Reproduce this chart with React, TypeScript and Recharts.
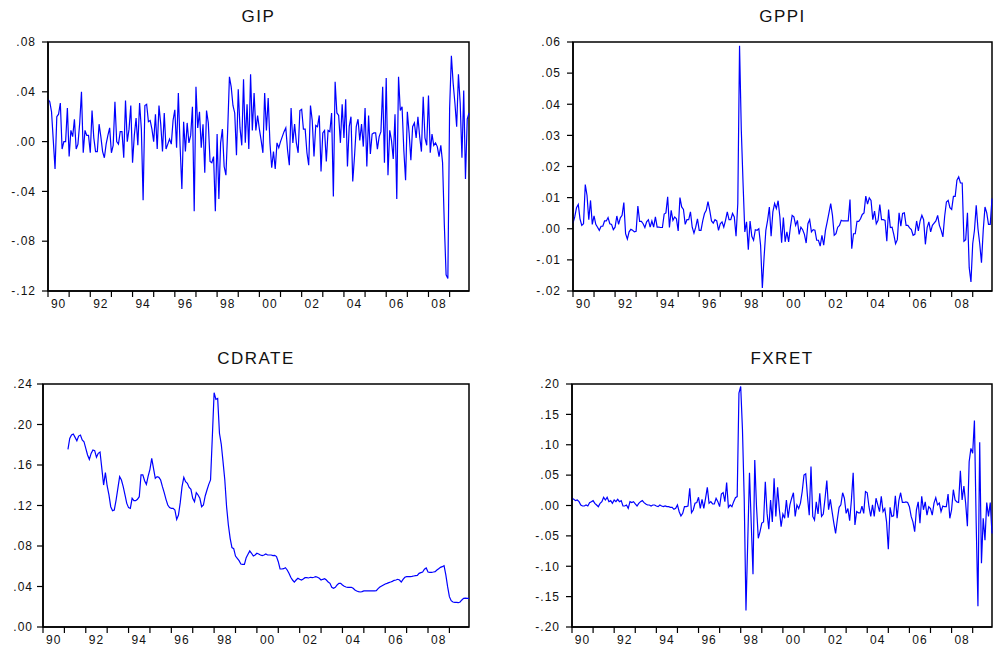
import React from 'react';
import { LineChart, Line, XAxis, YAxis, ReferenceArea } from 'recharts';

// monthly observations 1990:01 - 2009:12 (index 0..239)
const yearLabels = ['90', '91', '92', '93', '94', '95', '96', '97', '98', '99',
  '00', '01', '02', '03', '04', '05', '06', '07', '08', '09'];
const yearStarts = yearLabels.map((_, i) => i * 12);

const gip = [
  0.034, 0.032, 0.024, 0.001, -0.022, 0.020, 0.022, 0.031, -0.006, 0.000,
  0.000, 0.027, -0.012, 0.009, 0.004, 0.018, -0.006, -0.002, 0.015, 0.040,
  -0.009, 0.009, 0.005, 0.005, -0.009, 0.025, 0.003, -0.008, -0.008, 0.014,
  0.004, -0.008, -0.013, -0.002, 0.005, 0.011, -0.009, -0.003, 0.032, 0.000,
  -0.002, 0.008, 0.008, -0.013, 0.033, 0.000, 0.010, 0.029, -0.017, 0.005,
  0.019, -0.003, 0.031, 0.010, -0.047, 0.029, 0.030, 0.016, 0.017, 0.010,
  0.000, 0.022, -0.006, 0.029, 0.014, -0.008, 0.023, -0.006, -0.002, 0.002,
  -0.002, 0.017,
  0.0255, -0.005, 0.039, -0.004, -0.038, 0.016, -0.008, 0.015, -0.001, 0.005,
  0.028, -0.056, 0.044, 0.011, 0.024, -0.005, 0.014, -0.025, 0.025, 0.015,
  -0.016, -0.017, -0.012, -0.056, 0.006, -0.046, -0.001, 0.010, -0.020, -0.027,
  0.009, 0.052, 0.044, 0.029, 0.023, -0.011, 0.042, 0.011, -0.003, 0.050,
  -0.001, 0.030, -0.006, 0.054, 0.009, 0.039, 0.009, 0.021, 0.010, 0.001,
  -0.009, 0.039, 0.009, 0.035, -0.001, -0.021, -0.008, -0.022, -0.001, -0.005,
  0.000, 0.004, 0.008, 0.011, -0.007, -0.019, 0.027, -0.001, 0.014, -0.001,
  -0.009, 0.025, 0.026, 0.010, 0.010, -0.009, -0.019, 0.029, 0.017, -0.012,
  0.013, 0.012, 0.021, -0.024, 0.007, 0.009, -0.016, 0.009,
  0.008, 0.023, -0.044, 0.048, 0.023, 0.021, -0.001, 0.030, 0.003, 0.034,
  -0.020, 0.012, 0.020, -0.032, -0.012, 0.012, 0.018, 0.001, 0.014, -0.004,
  0.027, -0.020, 0.021, -0.010, 0.006, 0.007, 0.007, -0.006, 0.004, 0.008,
  0.044, -0.017, 0.051, -0.027, 0.009, 0.001, -0.014, 0.022, -0.046, 0.052,
  0.025, 0.028, -0.007, -0.031, 0.024, 0.007, -0.015, 0.012, 0.015, 0.003,
  0.020, 0.004, -0.008, 0.036, 0.003, -0.003, 0.037, -0.009, 0.006, -0.003,
  -0.001, -0.004, -0.012, -0.003, -0.017, -0.067, -0.107, -0.110, 0.027, 0.069,
  0.047, 0.031, 0.012, 0.054, 0.031, -0.013, 0.041, -0.030, 0.018, 0.023,
];

const gppi = [
  0.0018, 0.0038, 0.0068, 0.0078, 0.0032, 0.0011, 0.0016, 0.0142, 0.0107, 0.0029,
  0.0091, 0.0014, 0.0041, 0.0014, 0.0005, -0.0005, 0.0008, 0.0008, 0.0025, 0.0025,
  0.0036, 0.0016, 0.0014, -0.0003, 0.0005, 0.0041, 0.0014, 0.0035, 0.0043, 0.0084,
  -0.0016, -0.0033, -0.0010, -0.0002, -0.0005, -0.0010, -0.0008, 0.0073, 0.0024, 0.0024,
  0.0016, 0.0004, 0.0022, 0.0029, 0.0005, 0.0025, 0.0005, 0.0038, 0.0005, 0.0005,
  0.0004, 0.0004, 0.0047, 0.0051, 0.0103, 0.0004, 0.0059, 0.0027, 0.0038, 0.0032,
  -0.0007, 0.0100, 0.0070, 0.0062, 0.0014, 0.0029, 0.0029, 0.0054, 0.0005, -0.0014,
  0.0005, 0.0032, -0.0005, -0.0005, 0.0025, 0.0049, 0.0059, 0.0087, 0.0059, 0.0025,
  0.0018,
  0.0029, 0.0025, -0.0005, 0.0016, 0.0022, 0.0005, 0.0027, 0.0054, 0.0029, 0.0029,
  0.0049, 0.0038, -0.0024, 0.0081, 0.0588, 0.0317, 0.0146, -0.0010, 0.0022, -0.0067,
  0.0025, -0.0024, -0.0037, -0.0003, -0.0005, 0.0000, -0.0053, -0.0190, -0.0091, -0.0005,
  0.0027, 0.0070, -0.0024, 0.0054, 0.0081, 0.0065, 0.0090, 0.0038, -0.0045, 0.0036,
  -0.0042, -0.0010, -0.0042, 0.0005, 0.0043, 0.0038, 0.0011, 0.0027, -0.0018, 0.0005,
  -0.0003, -0.0018, -0.0046, 0.0016, 0.0029, -0.0010, -0.0003, -0.0005, -0.0037, -0.0037,
  -0.0056, -0.0021, -0.0053, -0.0005, 0.0022, 0.0051, 0.0081, 0.0043, -0.0021, -0.0016,
  0.0005, 0.0011, 0.0027, 0.0025, 0.0025, 0.0025, 0.0025, 0.0094, -0.0064, -0.0016,
  -0.0016, 0.0024, 0.0024, 0.0032, 0.0046, 0.0051, 0.0105, 0.0079, 0.0099, 0.0091,
  0.0029, 0.0057, 0.0016, 0.0027, 0.0078, 0.0029, 0.0029, 0.0027, -0.0040, 0.0062,
  0.0004, 0.0005, -0.0019, -0.0048, -0.0035, 0.0051, 0.0008, 0.0049, 0.0051, 0.0011,
  0.0011, 0.0003, -0.0003, -0.0021, -0.0018, 0.0025, -0.0007, 0.0025, 0.0043, 0.0029,
  -0.0050, 0.0004, 0.0022, -0.0010, 0.0011, 0.0018, 0.0025, 0.0043, 0.0011, -0.0005,
  -0.0026, 0.0040, 0.0086, 0.0091, 0.0068, 0.0062, 0.0104, 0.0104, 0.0156, 0.0167,
  0.0147, 0.0147, -0.0040, -0.0035, 0.0051, -0.0125, -0.0171, -0.0048, -0.0005, 0.0075,
  0.0000, -0.0048, -0.0109, -0.0005, 0.0070, 0.0051, 0.0014, 0.0014, 0.0097,
];

// CD rate starts 1991:03
const cdrate = [
  null, null, null, null, null, null, null, null, null, null, null, null, null, null,
  0.1755, 0.1863, 0.1896, 0.1906, 0.1873, 0.1840, 0.1886, 0.1896, 0.1847, 0.1830,
  0.1765, 0.1699, 0.1656, 0.1715, 0.1748, 0.1742, 0.1676, 0.1715, 0.1728, 0.1567,
  0.1402, 0.1524, 0.1393, 0.1304, 0.1188, 0.1149, 0.1156, 0.1254, 0.1370, 0.1485,
  0.1452, 0.1386, 0.1304, 0.1221, 0.1179, 0.1172, 0.1271, 0.1248, 0.1248, 0.1261,
  0.1287, 0.1502, 0.1502, 0.1445, 0.1409, 0.1491, 0.1557, 0.1666, 0.1567, 0.1468,
  0.1485, 0.1478, 0.1452, 0.1386, 0.1327, 0.1261, 0.1205, 0.1179, 0.1172, 0.1172,
  0.1156, 0.1063,
  0.1106, 0.1228, 0.1386, 0.1478, 0.1435, 0.1419, 0.1379, 0.1360, 0.1271, 0.1238,
  0.1327, 0.1304, 0.1271, 0.1188, 0.1205, 0.1294, 0.1353, 0.1409, 0.1452, 0.1880,
  0.2314, 0.2249, 0.2258, 0.1913, 0.1807, 0.1633, 0.1452, 0.1188, 0.1007, 0.0876,
  0.0784, 0.0774, 0.0701, 0.0678, 0.0655, 0.0622, 0.0619, 0.0619, 0.0685, 0.0718,
  0.0751, 0.0728, 0.0701, 0.0711, 0.0728, 0.0721, 0.0711, 0.0705, 0.0711, 0.0721,
  0.0711, 0.0711, 0.0711, 0.0705, 0.0708, 0.0695, 0.0645, 0.0573, 0.0573, 0.0576,
  0.0586, 0.0563, 0.0530, 0.0491, 0.0464, 0.0444, 0.0464, 0.0481, 0.0471, 0.0464,
  0.0474, 0.0487, 0.0487, 0.0484, 0.0491, 0.0487, 0.0491, 0.0497, 0.0491, 0.0481,
  0.0464, 0.0471, 0.0477, 0.0464, 0.0444, 0.0431,
  0.0392, 0.0382, 0.0392, 0.0415, 0.0431, 0.0431, 0.0415, 0.0402, 0.0395, 0.0392,
  0.0392, 0.0392, 0.0382, 0.0365, 0.0356, 0.0349, 0.0346, 0.0349, 0.0356, 0.0356,
  0.0356, 0.0356, 0.0356, 0.0356, 0.0356, 0.0359, 0.0379, 0.0395, 0.0405, 0.0415,
  0.0425, 0.0431, 0.0438, 0.0444, 0.0451, 0.0461, 0.0464, 0.0471, 0.0464, 0.0444,
  0.0471, 0.0491, 0.0497, 0.0497, 0.0497, 0.0500, 0.0504, 0.0507, 0.0510, 0.0530,
  0.0537, 0.0543, 0.0570, 0.0583, 0.0543, 0.0540, 0.0540, 0.0543, 0.0547, 0.0563,
  0.0576, 0.0589, 0.0596, 0.0606, 0.0514, 0.0398, 0.0300, 0.0260, 0.0247, 0.0244,
  0.0244, 0.0240, 0.0247, 0.0267, 0.0283, 0.0286, 0.0283, 0.0283,
];

const fxret = [
  0.0118, 0.0102, 0.0080, 0.0091, 0.0063, 0.0008, -0.0008, -0.0008, 0.0008, -0.0008,
  0.0047, 0.0063, 0.0080, 0.0036, 0.0008, -0.0019, 0.0036, 0.0063, 0.0135, 0.0091,
  0.0135, 0.0063, 0.0080, 0.0036, 0.0091, 0.0063, 0.0102, 0.0063, 0.0080, -0.0008,
  -0.0008, 0.0008, -0.0047, 0.0063, 0.0047, 0.0063, 0.0025, -0.0008, 0.0036, 0.0063,
  0.0080, 0.0047, 0.0025, 0.0008, 0.0008, -0.0008, 0.0008, 0.0008, -0.0008, -0.0019,
  0.0008, -0.0008, -0.0019, -0.0008, -0.0019, -0.0019, -0.0030, -0.0030, -0.0063, -0.0047,
  0.0008, -0.0102, -0.0173, -0.0129, -0.0019, -0.0019, -0.0008, 0.0283, -0.0118, -0.0074,
  0.0036, 0.0047, 0.0135, -0.0047, 0.0102, -0.0047, 0.0118, 0.0299, 0.0036, 0.0063,
  0.0025,
  0.0025, 0.0118, 0.0063, -0.0019, 0.0190, 0.0212, 0.0063, 0.0376, -0.0030, 0.0008,
  -0.0019, 0.0063, 0.0129, 0.0146, 0.185, 0.196, 0.125, 0.011, -0.173, -0.060,
  0.054, -0.030, -0.113, 0.075, -0.002, -0.054, -0.043, -0.029, -0.027, 0.039,
  -0.013, -0.039, 0.009, -0.027, 0.045, -0.018, 0.030, -0.007, -0.035, -0.014,
  -0.021, 0.009, -0.020, 0.001, 0.012, 0.021, -0.018, 0.001, -0.005, 0.004,
  0.023, 0.050, 0.052, 0.015, -0.016,
  0.064, -0.018, -0.024, 0.006, -0.014, 0.020, -0.018, -0.014, 0.012, 0.041,
  -0.007, 0.010, -0.010, -0.029, -0.046, -0.023, -0.003, 0.001, 0.021, 0.012,
  -0.013, -0.005, -0.025, 0.009, 0.054,
  -0.032, -0.010, -0.012, -0.012, -0.001, -0.013, 0.023, 0.021, -0.002, -0.018,
  0.001, -0.018, 0.012, 0.001, -0.010, 0.015, -0.010, -0.005, -0.027, -0.072,
  -0.003, -0.018, -0.017, 0.016, -0.021, 0.008, 0.021, 0.005, 0.005, 0.006,
  0.005, -0.002, -0.018, -0.027, -0.043, -0.007, 0.006, -0.029, 0.015, -0.007,
  0.006, -0.016, -0.002, -0.005, -0.016, 0.004, 0.013, 0.001, 0.004, -0.010,
  -0.001, -0.002, -0.002, 0.019, -0.021, -0.007, 0.026, 0.009, 0.006, 0.005,
  0.057, 0.009, 0.032, 0.004, -0.034, 0.072, 0.094, 0.086, 0.140, -0.029,
  -0.166, 0.104, -0.095, -0.021, -0.057, 0.005, -0.018, 0.005, -0.046,
];

const gipTicks = [-0.12, -0.08, -0.04, 0, 0.04, 0.08];
const gppiTicks = [-0.02, -0.01, 0, 0.01, 0.02, 0.03, 0.04, 0.05, 0.06];
const cdTicks = [0, 0.04, 0.08, 0.12, 0.16, 0.2, 0.24];
const fxTicks = [-0.2, -0.15, -0.1, -0.05, 0, 0.05, 0.1, 0.15, 0.2];

const data = gip.map((v, i) => ({
  t: i,
  GIP: v,
  GPPI: gppi[i],
  CDRATE: cdrate[i],
  FXRET: fxret[i],
}));

const FONT = "'Liberation Sans', Arial, Helvetica, sans-serif";
const LAST = data.length - 1;

// EViews style numbers: .08, -.04
const fmt = (v: number) => {
  const s = Math.abs(v).toFixed(2).replace(/^0/, '');
  return v < -1e-9 ? '-' + s : s;
};

const XTick = ({ x, y, payload, monthPx }: any) => {
  const idx = Math.round(payload.value / 12);
  if (idx % 2 !== 0) return <g />;
  return (
    <text x={x + monthPx * 6} y={y} dy="0.71em" textAnchor="middle"
      fontSize={12} fill="#111" letterSpacing={1} fontFamily={FONT}>
      {yearLabels[idx]}
    </text>
  );
};

interface PanelProps {
  title: string;
  dataKey: string;
  left: number;
  top: number;
  width: number;
  height: number;
  plotLeft: number;
  plotRight: number;
  plotTop: number;
  plotBottom: number;
  domain: [number, number];
  ticks: number[];
  yGap: number;
}

const Panel: React.FC<PanelProps> = (p) => {
  const plotW = p.plotRight - p.plotLeft;
  const monthPx = plotW / LAST;
  const yw = p.plotLeft - p.left;
  const xh = p.top + p.height - p.plotBottom;
  return (
    <>
      <div style={{
        position: 'absolute', left: p.plotLeft, width: plotW, top: p.plotTop - 35,
        lineHeight: '20px', textAlign: 'center', fontSize: 17, color: '#111',
        letterSpacing: 1.5, fontFamily: FONT,
      }}>{p.title}</div>
      <div style={{ position: 'absolute', left: p.left, top: p.top }}>
        <LineChart width={p.width} height={p.height} data={data}
          margin={{ top: p.plotTop - p.top, right: p.left + p.width - p.plotRight, bottom: 0, left: 0 }}>
          <XAxis dataKey="t" type="number" domain={[0, LAST]} ticks={yearStarts}
            interval={0} height={xh} tickSize={6} tickMargin={2}
            axisLine={{ stroke: '#000', strokeWidth: 1.5 }}
            tickLine={{ stroke: '#000', strokeWidth: 1.2 }}
            tick={(tp: any) => <XTick {...tp} monthPx={monthPx} />} />
          <YAxis type="number" domain={p.domain} ticks={p.ticks} interval={0}
            width={yw} tickSize={6} tickMargin={p.yGap} tickFormatter={fmt}
            allowDataOverflow
            axisLine={{ stroke: '#000', strokeWidth: 1.5 }}
            tickLine={{ stroke: '#000', strokeWidth: 1.2 }}
            tick={{ fontSize: 12, fill: '#111', letterSpacing: 1, fontFamily: FONT }} />
          <ReferenceArea x1={0} x2={LAST} y1={p.domain[0]} y2={p.domain[1]}
            fill="none" fillOpacity={0} stroke="#000" strokeWidth={1.5} />
          <Line type="linear" dataKey={p.dataKey} stroke="#0000ff" strokeWidth={1.2}
            dot={false} activeDot={false} isAnimationActive={false} />
        </LineChart>
      </div>
    </>
  );
};

export default function App() {
  return (
    <div style={{
      position: 'absolute', left: 0, top: 0, width: 993, height: 646,
      background: '#fff', overflow: 'hidden', fontFamily: FONT,
    }}>
      <Panel title="GIP" dataKey="GIP" left={0} top={0} width={480} height={312}
        plotLeft={48} plotRight={469} plotTop={42} plotBottom={291}
        domain={[-0.12, 0.08]} ticks={gipTicks} yGap={6} />
      <Panel title="GPPI" dataKey="GPPI" left={500} top={0} width={493} height={312}
        plotLeft={573} plotRight={992} plotTop={42} plotBottom={291}
        domain={[-0.02, 0.06]} ticks={gppiTicks} yGap={6} />
      <Panel title="CDRATE" dataKey="CDRATE" left={0} top={330} width={480} height={316}
        plotLeft={43} plotRight={469} plotTop={384} plotBottom={627}
        domain={[0, 0.24]} ticks={cdTicks} yGap={4} />
      <Panel title="FXRET" dataKey="FXRET" left={500} top={330} width={493} height={316}
        plotLeft={572} plotRight={992} plotTop={384} plotBottom={627}
        domain={[-0.2, 0.2]} ticks={fxTicks} yGap={6} />
    </div>
  );
}
